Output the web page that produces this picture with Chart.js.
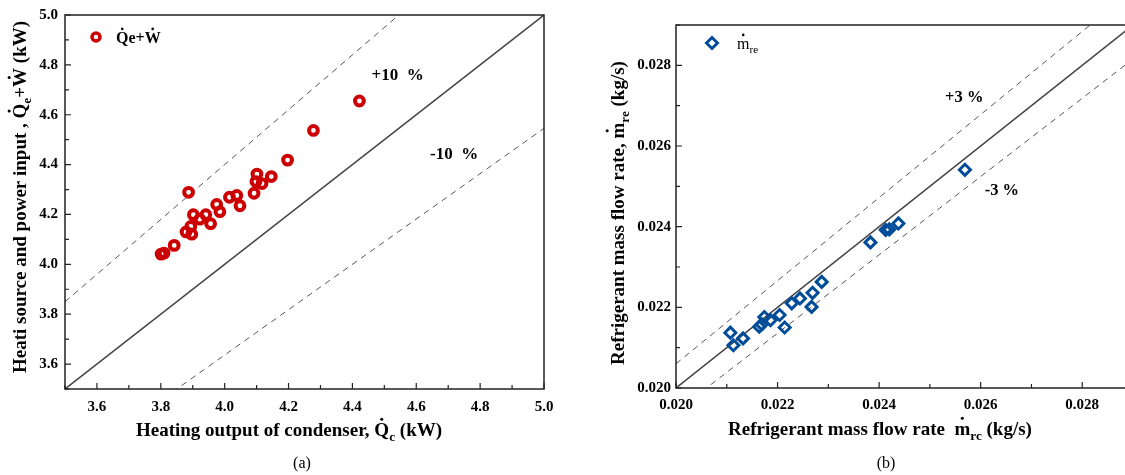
<!DOCTYPE html>
<html>
<head>
<meta charset="utf-8">
<script src="https://cdn.jsdelivr.net/npm/chart.js@4.4.0/dist/chart.umd.min.js"></script>
<style>
html, body { margin: 0; padding: 0; background: #fff; overflow: hidden; width: 1125px; height: 475px; }
canvas { position: absolute; left: 0; top: 0; }
</style>
</head>
<body>
<canvas id="chartA" width="1125" height="475"></canvas>
<canvas id="chartB" width="1145" height="475"></canvas>
<script>
// (a) condenser output vs. source + power input (kW)
const qcValues = [4.422, 4.278, 4.197, 4.101, 4.146, 4.098, 4.117, 4.092, 3.887, 4.015, 4.038, 4.048,
                  3.975, 3.985, 3.902, 3.941, 3.922, 3.956, 3.894, 3.879, 3.897, 3.842, 3.801, 3.810];
const qeWValues = [4.655, 4.537, 4.418, 4.362, 4.352, 4.332, 4.324, 4.285, 4.289, 4.269, 4.276, 4.235,
                   4.240, 4.211, 4.199, 4.199, 4.181, 4.163, 4.152, 4.130, 4.121, 4.076, 4.041, 4.045];
const rangeA = [3.5, 5.0];
const devA = 0.10;

// (b) refrigerant mass flow rate (kg/s)
const mrcValues = [0.02569, 0.02383, 0.02413, 0.02420, 0.02438, 0.02287, 0.02269, 0.02267, 0.02244, 0.02228,
                   0.02204, 0.02214, 0.02186, 0.02174, 0.02164, 0.02169, 0.02107, 0.02113, 0.02132];
const mreValues = [0.02541, 0.02361, 0.02392, 0.02393, 0.02408, 0.02263, 0.02236, 0.02201, 0.02222, 0.02210,
                   0.02181, 0.02150, 0.02168, 0.02176, 0.02152, 0.02158, 0.02137, 0.02106, 0.02123];
const rangeB = [0.020, 0.029];
const devB = 0.03;

const FONT = "'Liberation Serif', 'Times New Roman', serif";
const RED = '#cc0000';
const BLUE = '#004c99';

function toPoints(xs, ys) {
    return xs.map((x, i) => ({ x: x, y: ys[i] }));
}

function richWidth(ctx, parts, size, weight) {
    let w = 0;
    parts.forEach(p => {
        ctx.font = weight + ' ' + (p.sub ? size * 0.7 : size) + 'px ' + FONT;
        w += ctx.measureText(p.t).width;
    });
    return w;
}

// draws text with subscripts and dots over letters, y is the vertical centre
function drawRich(ctx, parts, x, y, size, weight, align) {
    const total = richWidth(ctx, parts, size, weight);
    let cx = align === 'center' ? x - total / 2 : x;
    const base = y + size * 0.33;
    ctx.textAlign = 'left';
    ctx.textBaseline = 'alphabetic';
    ctx.fillStyle = '#000';
    parts.forEach(p => {
        const s = p.sub ? size * 0.7 : size;
        ctx.font = weight + ' ' + s + 'px ' + FONT;
        const w = ctx.measureText(p.t).width;
        ctx.fillText(p.t, cx, p.sub ? base + size * 0.25 : base);
        if (p.dot) {
            ctx.beginPath();
            ctx.arc(cx + w / 2, base - size * 0.9, size * 0.08, 0, Math.PI * 2);
            ctx.fill();
        }
        cx += w;
    });
}

function drawRotated(ctx, parts, x, y, size, weight) {
    ctx.save();
    ctx.translate(x, y);
    ctx.rotate(-Math.PI / 2);
    drawRich(ctx, parts, 0, 0, size, weight, 'center');
    ctx.restore();
}

function drawFrameAndTicks(chart, isMajor) {
    const ctx = chart.ctx;
    const a = chart.chartArea;
    const xs = chart.scales.x;
    const ys = chart.scales.y;
    ctx.save();
    ctx.strokeStyle = '#222';
    ctx.lineWidth = 1.5;
    ctx.strokeRect(a.left, a.top, a.right - a.left, a.bottom - a.top);
    ctx.lineWidth = 1.2;
    ctx.beginPath();
    xs.ticks.forEach(t => {
        const px = xs.getPixelForValue(t.value);
        const len = isMajor(t.value) ? 6 : 4;
        ctx.moveTo(px, a.bottom);
        ctx.lineTo(px, a.bottom - len);
    });
    ys.ticks.forEach(t => {
        const py = ys.getPixelForValue(t.value);
        const len = isMajor(t.value) ? 6 : 4;
        ctx.moveTo(a.left, py);
        ctx.lineTo(a.left + len, py);
    });
    ctx.stroke();
    ctx.restore();
}

function axisOptions(min, max, step, fmt, size, pad) {
    return {
        type: 'linear',
        min: min,
        max: max,
        grid: { display: false, drawTicks: false },
        border: { display: false },
        ticks: {
            stepSize: step,
            autoSkip: false,
            maxRotation: 0,
            padding: pad,
            color: '#000',
            font: { family: FONT, size: 15, weight: 'bold' },
            callback: fmt
        },
        afterFit: s => {
            if (s.isHorizontal()) s.height = size; else s.width = size;
            s.paddingLeft = 0; s.paddingRight = 0; s.paddingTop = 0; s.paddingBottom = 0;
        }
    };
}

function refLine(range, factor, dashed) {
    return {
        data: [{ x: range[0], y: range[0] * factor }, { x: range[1], y: range[1] * factor }],
        showLine: true,
        pointRadius: 0,
        borderColor: dashed ? '#555' : '#444',
        borderWidth: dashed ? 1 : 1.5,
        borderDash: dashed ? [6, 5] : [],
        fill: false
    };
}

// ---- chart (a)
const majorA = v => Math.round(v * 10) % 2 === 0;
const decorA = {
    id: 'decorA',
    afterDraw(chart) {
        const ctx = chart.ctx;
        const a = chart.chartArea;
        const xs = chart.scales.x;
        const ys = chart.scales.y;
        drawFrameAndTicks(chart, majorA);

        ctx.save();
        ctx.fillStyle = '#000';
        ctx.font = 'bold 17px ' + FONT;
        ctx.textBaseline = 'middle';
        ctx.textAlign = 'left';
        ctx.fillText('+10  %', xs.getPixelForValue(4.46), ys.getPixelForValue(4.756));
        ctx.fillText('-10  %', xs.getPixelForValue(4.643), ys.getPixelForValue(4.442));

        // legend
        ctx.strokeStyle = RED;
        ctx.lineWidth = 3.5;
        ctx.beginPath();
        ctx.arc(a.left + 31, a.top + 22, 4, 0, Math.PI * 2);
        ctx.stroke();
        drawRich(ctx, [{ t: 'Q', dot: true }, { t: 'e+' }, { t: 'W', dot: true }], a.left + 51, a.top + 23, 16, 'bold', 'left');

        drawRich(ctx, [{ t: 'Heating output of condenser, ' }, { t: 'Q', dot: true }, { t: 'c', sub: true }, { t: ' (kW)' }],
            289, 430, 19, 'bold', 'center');
        drawRotated(ctx, [{ t: 'Heati source and power input , ' }, { t: 'Q', dot: true }, { t: 'e', sub: true }, { t: '+' },
            { t: 'W', dot: true }, { t: ' (kW)' }], 20, 197, 19, 'bold');
        drawRich(ctx, [{ t: '(a)' }], 302, 463, 16, 'normal', 'center');
        ctx.restore();
    }
};

new Chart(document.getElementById('chartA'), {
    type: 'scatter',
    data: {
        datasets: [
            {
                data: toPoints(qcValues, qeWValues),
                pointStyle: 'circle',
                pointRadius: 4.4,
                pointHoverRadius: 4.4,
                pointBorderWidth: 4,
                pointBorderColor: RED,
                pointBackgroundColor: 'rgba(255,255,255,0)'
            },
            refLine(rangeA, 1, false),
            refLine(rangeA, 1 + devA, true),
            refLine(rangeA, 1 / (1 + devA), true)
        ]
    },
    options: {
        responsive: false,
        animation: false,
        devicePixelRatio: 1,
        layout: { padding: { left: 0, top: 15, right: 581, bottom: 0 } },
        plugins: { legend: { display: false }, tooltip: { enabled: false } },
        scales: {
            x: axisOptions(rangeA[0], rangeA[1], 0.1, v => majorA(v) ? v.toFixed(1) : '', 86, 9),
            y: axisOptions(rangeA[0], rangeA[1], 0.1, v => majorA(v) ? v.toFixed(1) : '', 65, 7)
        }
    },
    plugins: [decorA]
});

// ---- chart (b)
const majorB = v => Math.round(v * 1000) % 2 === 0;
const decorB = {
    id: 'decorB',
    afterDraw(chart) {
        const ctx = chart.ctx;
        const a = chart.chartArea;
        const xs = chart.scales.x;
        const ys = chart.scales.y;
        drawFrameAndTicks(chart, majorB);

        ctx.save();
        ctx.fillStyle = '#000';
        ctx.font = 'bold 16.5px ' + FONT;
        ctx.textBaseline = 'middle';
        ctx.textAlign = 'left';
        ctx.fillText('+3 %', xs.getPixelForValue(0.0253), ys.getPixelForValue(0.02719));
        ctx.fillText('-3 %', xs.getPixelForValue(0.02608), ys.getPixelForValue(0.02488));

        // legend
        const lx = a.left + 36, ly = a.top + 18;
        ctx.strokeStyle = BLUE;
        ctx.lineWidth = 3;
        ctx.beginPath();
        ctx.moveTo(lx, ly - 5.5);
        ctx.lineTo(lx + 5.5, ly);
        ctx.lineTo(lx, ly + 5.5);
        ctx.lineTo(lx - 5.5, ly);
        ctx.closePath();
        ctx.stroke();
        drawRich(ctx, [{ t: 'm', dot: true }, { t: 're', sub: true }], a.left + 61, ly + 1, 16, 'normal', 'left');

        drawRich(ctx, [{ t: 'Refrigerant mass flow rate  ' }, { t: 'm', dot: true }, { t: 'rc', sub: true }, { t: ' (kg/s)' }],
            880, 429, 19, 'bold', 'center');
        drawRotated(ctx, [{ t: 'Refrigerant mass flow rate, ' }, { t: 'm', dot: true }, { t: 're', sub: true }, { t: ' (kg/s)' }],
            618, 213, 19, 'bold');
        drawRich(ctx, [{ t: '(b)' }], 886, 463, 16, 'normal', 'center');
        ctx.restore();
    }
};

new Chart(document.getElementById('chartB'), {
    type: 'scatter',
    data: {
        datasets: [
            {
                data: toPoints(mrcValues, mreValues),
                pointStyle: 'rectRot',
                pointRadius: 5.5,
                pointHoverRadius: 5.5,
                pointBorderWidth: 3,
                pointBorderColor: BLUE,
                pointBackgroundColor: 'rgba(255,255,255,0)'
            },
            refLine(rangeB, 1, false),
            refLine(rangeB, 1 + devB, true),
            refLine(rangeB, 1 / (1 + devB), true)
        ]
    },
    options: {
        responsive: false,
        animation: false,
        devicePixelRatio: 1,
        layout: { padding: { left: 600, top: 25, right: 12, bottom: 0 } },
        plugins: { legend: { display: false }, tooltip: { enabled: false } },
        scales: {
            x: axisOptions(rangeB[0], rangeB[1], 0.001, v => majorB(v) ? v.toFixed(3) : '', 87, 8),
            y: axisOptions(rangeB[0], rangeB[1], 0.001, v => majorB(v) ? v.toFixed(3) : '', 76, 5)
        }
    },
    plugins: [decorB]
});
</script>
</body>
</html>
